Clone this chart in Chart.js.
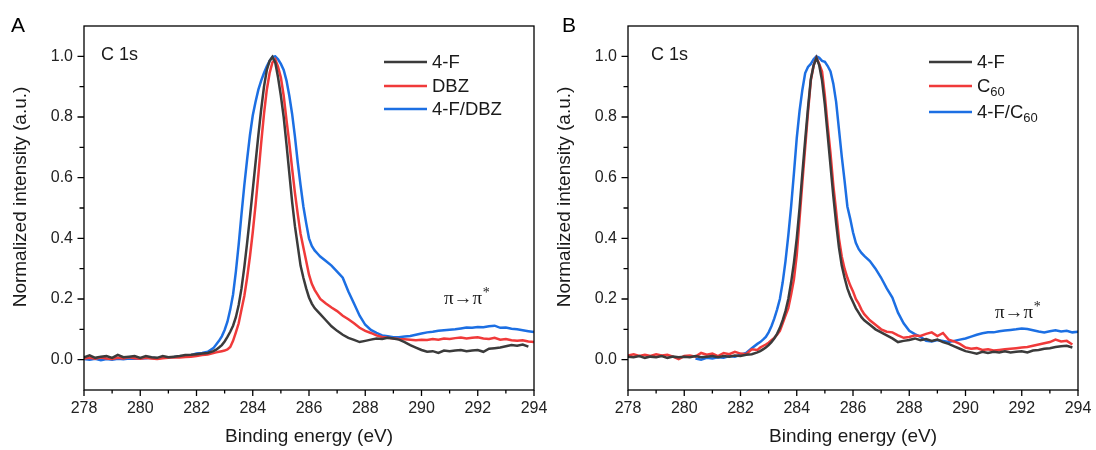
<!DOCTYPE html>
<html>
<head>
<meta charset="utf-8">
<script src="https://cdn.jsdelivr.net/npm/chart.js@4.4.1/dist/chart.umd.min.js"></script>
<style>
  html, body { margin: 0; padding: 0; background: #fff; }
  #wrap { position: relative; width: 1096px; height: 450px; }
  .panel { position: absolute; top: 0; width: 548px; height: 450px; }
  #panelA { left: 0; }
  #panelB { left: 548px; }
</style>
</head>
<body>
<div id="wrap">
  <div class="panel" id="panelA"><canvas id="chartA" width="548" height="450"></canvas></div>
  <div class="panel" id="panelB"><canvas id="chartB" width="548" height="450"></canvas></div>
</div>
<script>
'use strict';

// binding energy grid (eV), shared by every curve
var energy = [
  278.0, 278.2, 278.4, 278.6, 278.8, 279.0, 279.2, 279.4, 279.6, 279.8, 280.0, 280.2,
  280.4, 280.6, 280.8, 281.0, 281.2, 281.4, 281.6, 281.8, 282.0, 282.2, 282.4, 282.6,
  282.7, 282.8, 282.9, 283.0, 283.1, 283.2, 283.3, 283.4, 283.5, 283.6, 283.7, 283.8, 283.9,
  284.0, 284.1, 284.2, 284.3, 284.4, 284.5, 284.6, 284.7, 284.8, 284.9,
  285.0, 285.1, 285.2, 285.3, 285.4, 285.5, 285.6, 285.7, 285.8, 285.9,
  286.0, 286.1, 286.2, 286.3,
  286.4, 286.6, 286.8, 287.0, 287.2, 287.4, 287.6, 287.8,
  288.0, 288.2, 288.4, 288.6, 288.8, 289.0, 289.2, 289.4, 289.6, 289.8,
  290.0, 290.2, 290.4, 290.6, 290.8, 291.0, 291.2, 291.4, 291.6, 291.8,
  292.0, 292.2, 292.4, 292.6, 292.8, 293.0, 293.2, 293.4, 293.6, 293.8,
  294.0
];

// panel A : 4-F, DBZ, 4-F/DBZ
var a4F = [
  0.008, 0.014, 0.006, 0.010, 0.012, 0.006, 0.016, 0.008, 0.010, 0.012, 0.006, 0.012,
  0.008, 0.006, 0.012, 0.008, 0.010, 0.012, 0.015, 0.016, 0.018, 0.020, 0.022, 0.028,
  0.033, 0.040, 0.048, 0.060, 0.075, 0.092, 0.112, 0.140, 0.180, 0.235, 0.305, 0.385, 0.470,
  0.560, 0.650, 0.740, 0.825, 0.900, 0.955, 0.985, 0.998, 0.980, 0.930,
  0.870, 0.800, 0.710, 0.615, 0.520, 0.440, 0.375, 0.310, 0.270, 0.235,
  0.205, 0.185, 0.170, 0.160,
  0.150, 0.130, 0.110, 0.095, 0.082, 0.072, 0.065, 0.058,
  0.062, 0.066, 0.070, 0.068, 0.072, 0.070, 0.066, 0.058, 0.048, 0.040,
  0.032, 0.026, 0.028, 0.022, 0.030, 0.028, 0.030, 0.032, 0.028, 0.030,
  0.032, 0.026, 0.036, 0.038, 0.040, 0.044, 0.048, 0.046, 0.050, 0.043,
  null
];
var aDBZ = [
  0.004, 0.006, 0.003, 0.007, 0.004, 0.002, 0.006, 0.004, 0.008, 0.005, 0.003, 0.006,
  0.004, 0.002, 0.005, 0.006, 0.008, 0.007, 0.009, 0.010, 0.012, 0.015, 0.017, 0.022,
  0.024, 0.026, 0.028, 0.030, 0.034, 0.042, 0.062, 0.090, 0.120, 0.165, 0.210, 0.270, 0.340,
  0.420, 0.510, 0.610, 0.715, 0.810, 0.890, 0.945, 0.980, 0.990, 0.965,
  0.930, 0.870, 0.790, 0.715, 0.630, 0.550, 0.480, 0.415, 0.370, 0.325,
  0.280, 0.250, 0.230, 0.215,
  0.200, 0.185, 0.172, 0.160, 0.145, 0.133, 0.120, 0.105,
  0.095, 0.088, 0.080, 0.075, 0.072, 0.070, 0.068, 0.067, 0.066, 0.064,
  0.066, 0.065, 0.068, 0.066, 0.070, 0.068, 0.071, 0.073, 0.070, 0.072,
  0.074, 0.070, 0.068, 0.072, 0.066, 0.068, 0.064, 0.062, 0.064, 0.060,
  0.058
];
var a4FDBZ = [
  0.002, 0.000, 0.003, -0.002, 0.002, 0.000, 0.003, 0.001, 0.004, 0.003, 0.004, 0.005,
  0.006, 0.005, 0.007, 0.008, 0.009, 0.011, 0.012, 0.015, 0.020, 0.022, 0.026, 0.038,
  0.050, 0.062, 0.077, 0.098, 0.125, 0.165, 0.215, 0.290, 0.380, 0.480, 0.575, 0.660, 0.740,
  0.805, 0.850, 0.890, 0.920, 0.945, 0.967, 0.985, 0.998, 1.000, 0.990,
  0.975, 0.955, 0.920, 0.870, 0.810, 0.735, 0.650, 0.575, 0.505, 0.450,
  0.400, 0.375, 0.360, 0.350,
  0.340, 0.325, 0.310, 0.290, 0.270, 0.225, 0.185, 0.145,
  0.115, 0.098, 0.088, 0.080, 0.077, 0.074, 0.074, 0.076, 0.078, 0.082,
  0.086, 0.090, 0.092, 0.095, 0.097, 0.099, 0.100, 0.103, 0.106, 0.105,
  0.108, 0.107, 0.110, 0.112, 0.105, 0.106, 0.102, 0.100, 0.097, 0.094,
  0.091
];

// panel B : 4-F, C60, 4-F/C60
var b4F = [
  0.010, 0.008, 0.012, 0.006, 0.010, 0.008, 0.012, 0.006, 0.010, 0.008, 0.010, 0.008,
  0.012, 0.008, 0.010, 0.012, 0.008, 0.012, 0.010, 0.014, 0.012, 0.016, 0.018, 0.024,
  0.028, 0.034, 0.040, 0.048, 0.058, 0.070, 0.085, 0.105, 0.130, 0.160, 0.200, 0.255, 0.320,
  0.400, 0.500, 0.615, 0.725, 0.830, 0.925, 0.970, 0.995, 0.970, 0.920,
  0.840, 0.740, 0.640, 0.540, 0.450, 0.370, 0.310, 0.270, 0.235, 0.210,
  0.190, 0.170, 0.155, 0.140,
  0.130, 0.115, 0.100, 0.090, 0.080, 0.070, 0.058, 0.062,
  0.065, 0.070, 0.064, 0.068, 0.062, 0.066, 0.058, 0.052, 0.044, 0.036,
  0.028, 0.024, 0.020, 0.026, 0.022, 0.026, 0.024, 0.028, 0.024, 0.026,
  0.028, 0.024, 0.030, 0.032, 0.036, 0.038, 0.042, 0.044, 0.046, 0.040,
  null
];
var bC60 = [
  0.014, 0.018, 0.012, 0.016, 0.012, 0.018, 0.014, 0.016, 0.010, 0.002, 0.012, 0.014,
  0.010, 0.022, 0.016, 0.020, 0.012, 0.022, 0.018, 0.026, 0.020, 0.018, 0.034, 0.032,
  0.040, 0.045, 0.050, 0.056, 0.064, 0.072, 0.082, 0.095, 0.120, 0.145, 0.170, 0.215, 0.265,
  0.345, 0.465, 0.585, 0.700, 0.815, 0.920, 0.970, 0.995, 0.975, 0.950,
  0.870, 0.770, 0.680, 0.575, 0.490, 0.400, 0.340, 0.300, 0.270, 0.245,
  0.225, 0.200, 0.185, 0.165,
  0.150, 0.130, 0.115, 0.100, 0.092, 0.090, 0.080, 0.072,
  0.075, 0.080, 0.078, 0.085, 0.090, 0.078, 0.088, 0.066, 0.060, 0.052,
  0.040, 0.036, 0.038, 0.032, 0.034, 0.030, 0.032, 0.034, 0.036, 0.038,
  0.040, 0.042, 0.046, 0.050, 0.054, 0.058, 0.066, 0.060, 0.062, 0.050,
  null
];
var b4FC60 = [
  null, null, null, null, null, null, null, null, null, null, null, null,
  0.004, 0.000, 0.006, 0.004, 0.008, 0.006, 0.012, 0.010, 0.016, 0.022, 0.038, 0.052,
  0.058, 0.066, 0.075, 0.090, 0.110, 0.135, 0.165, 0.200, 0.255, 0.325, 0.410, 0.505, 0.615,
  0.730, 0.820, 0.890, 0.945, 0.965, 0.975, 0.990, 1.000, 0.995, 0.985,
  0.982, 0.968, 0.950, 0.910, 0.850, 0.760, 0.670, 0.590, 0.505, 0.465,
  0.420, 0.385, 0.365, 0.352,
  0.342, 0.325, 0.300, 0.270, 0.235, 0.205, 0.155, 0.120,
  0.095, 0.084, 0.075, 0.062, 0.060, 0.065, 0.062, 0.058, 0.062, 0.066,
  0.070, 0.076, 0.082, 0.087, 0.090, 0.090, 0.094, 0.096, 0.098, 0.100,
  0.103, 0.101, 0.097, 0.093, 0.090, 0.094, 0.097, 0.093, 0.095, 0.090,
  0.092
];

// axis ticks
var xTicks = [278, 280, 282, 284, 286, 288, 290, 292, 294];
var xMinorTicks = [279, 281, 283, 285, 287, 289, 291, 293];
var yTicks = [0.0, 0.2, 0.4, 0.6, 0.8, 1.0];
var yMinorTicks = [0.1, 0.3, 0.5, 0.7, 0.9];

var colBlack = '#3b3b3b';
var colRed = '#f03a3a';
var colBlue = '#1c6fe3';
var sans = "'Liberation Sans', Arial, sans-serif";
var serif = "'Liberation Serif', 'DejaVu Serif', serif";

function pts(vals) {
  return energy.map(function(e, i) { return { x: e, y: vals[i] }; });
}

function makeSet(label, vals, color) {
  return {
    label: label,
    data: pts(vals),
    borderColor: color,
    backgroundColor: color,
    borderWidth: 2.5,
    pointRadius: 0,
    tension: 0,
    spanGaps: false
  };
}

// text with optional subscript part, e.g. C + 60
function drawSub(ctx, x, y, main, sub, size) {
  ctx.font = size + 'px ' + sans;
  ctx.fillText(main, x, y);
  if (sub) {
    var w = ctx.measureText(main).width;
    ctx.font = Math.round(size * 0.68) + 'px ' + sans;
    ctx.fillText(sub, x + w, y + size * 0.3);
  }
}

// frame, ticks, titles, legend and labels
var panelDeco = {
  id: 'panelDeco',
  afterDraw: function(chart, args, opts) {
    var ctx = chart.ctx;
    var ca = chart.chartArea;
    var xs = chart.scales.x;
    var ys = chart.scales.y;
    ctx.save();
    ctx.strokeStyle = '#000';
    ctx.lineWidth = 1.3;
    ctx.strokeRect(ca.left, ca.top, ca.right - ca.left, ca.bottom - ca.top);

    ctx.beginPath();
    xTicks.forEach(function(v) {
      var px = xs.getPixelForValue(v);
      ctx.moveTo(px, ca.bottom); ctx.lineTo(px, ca.bottom + 6);
    });
    xMinorTicks.forEach(function(v) {
      var px = xs.getPixelForValue(v);
      ctx.moveTo(px, ca.bottom); ctx.lineTo(px, ca.bottom + 3.5);
    });
    yTicks.forEach(function(v) {
      var py = ys.getPixelForValue(v);
      ctx.moveTo(ca.left, py); ctx.lineTo(ca.left - 6.5, py);
    });
    yMinorTicks.forEach(function(v) {
      var py = ys.getPixelForValue(v);
      ctx.moveTo(ca.left, py); ctx.lineTo(ca.left - 4.5, py);
    });
    ctx.stroke();

    ctx.fillStyle = '#000';
    ctx.textBaseline = 'alphabetic';
    ctx.textAlign = 'left';
    ctx.font = '21px ' + sans;
    ctx.fillText(opts.letter, opts.letterX, 32);
    ctx.fillStyle = '#1a1a1a';
    ctx.font = '18px ' + sans;
    ctx.fillText('C 1s', opts.c1sX, 60);

    // axis titles
    ctx.textAlign = 'center';
    ctx.textBaseline = 'middle';
    ctx.font = '19px ' + sans;
    ctx.fillText('Binding energy (eV)', (ca.left + ca.right) / 2, 437);
    ctx.save();
    ctx.translate(opts.yTitleX, 197);
    ctx.rotate(-Math.PI / 2);
    ctx.fillText('Normalized intensity (a.u.)', 0, 0);
    ctx.restore();

    // legend
    ctx.textAlign = 'left';
    opts.legend.forEach(function(item) {
      ctx.strokeStyle = item.color;
      ctx.lineWidth = 2.6;
      ctx.beginPath();
      ctx.moveTo(opts.legX, item.y);
      ctx.lineTo(opts.legX + 43, item.y);
      ctx.stroke();
      ctx.fillStyle = '#1a1a1a';
      ctx.textBaseline = 'middle';
      drawSub(ctx, opts.legX + 48, item.y + 1, item.main, item.sub, 18.5);
    });

    // pi -> pi* label
    ctx.fillStyle = '#1a1a1a';
    ctx.textBaseline = 'middle';
    ctx.font = '19px ' + serif;
    ctx.fillText('\u03C0\u2192\u03C0', opts.piX, opts.piY);
    var pw = ctx.measureText('\u03C0\u2192\u03C0').width;
    ctx.font = '14px ' + serif;
    ctx.fillText('*', opts.piX + pw + 0.5, opts.piY - 6);
    ctx.restore();
  }
};

function makeChart(canvasId, sets, padLeftAxis, padRight, deco) {
  var ctx = document.getElementById(canvasId).getContext('2d');
  return new Chart(ctx, {
    type: 'line',
    data: { datasets: sets },
    plugins: [panelDeco],
    options: {
      responsive: false,
      animation: false,
      devicePixelRatio: 1,
      layout: { padding: { top: 26, right: padRight, left: 0, bottom: 0 } },
      plugins: {
        legend: { display: false },
        tooltip: { enabled: false },
        panelDeco: deco
      },
      scales: {
        x: {
          type: 'linear',
          min: 278,
          max: 294,
          afterBuildTicks: function(s) { s.ticks = xTicks.map(function(v) { return { value: v }; }); },
          afterFit: function(s) { s.height = 60; s.paddingLeft = 0; s.paddingRight = 0; },
          grid: { display: false, drawTicks: false },
          border: { display: false },
          ticks: {
            color: '#222',
            font: { family: sans, size: 16 },
            padding: 9,
            maxRotation: 0,
            autoSkip: false
          }
        },
        y: {
          type: 'linear',
          min: -0.1,
          max: 1.1,
          afterBuildTicks: function(s) { s.ticks = yTicks.map(function(v) { return { value: v }; }); },
          afterFit: function(s) { s.width = padLeftAxis; s.paddingTop = 0; s.paddingBottom = 0; },
          grid: { display: false, drawTicks: false },
          border: { display: false },
          ticks: {
            color: '#222',
            font: { family: sans, size: 16 },
            padding: 11,
            callback: function(v) { return Number(v).toFixed(1); }
          }
        }
      }
    }
  });
}

makeChart('chartA', [
  makeSet('4-F', a4F, colBlack),
  makeSet('DBZ', aDBZ, colRed),
  makeSet('4-F/DBZ', a4FDBZ, colBlue)
], 84, 14, {
  letter: 'A', letterX: 11, c1sX: 101, yTitleX: 21,
  legX: 384, piX: 444, piY: 299,
  legend: [
    { y: 62, color: colBlack, main: '4-F' },
    { y: 86, color: colRed, main: 'DBZ' },
    { y: 109, color: colBlue, main: '4-F/DBZ' }
  ]
});

makeChart('chartB', [
  makeSet('4-F', b4F, colBlack),
  makeSet('C60', bC60, colRed),
  makeSet('4-F/C60', b4FC60, colBlue)
], 80, 18, {
  letter: 'B', letterX: 14, c1sX: 103, yTitleX: 17,
  legX: 381, piX: 447, piY: 313,
  legend: [
    { y: 62, color: colBlack, main: '4-F' },
    { y: 86, color: colRed, main: 'C', sub: '60' },
    { y: 112, color: colBlue, main: '4-F/C', sub: '60' }
  ]
});
</script>
</body>
</html>
